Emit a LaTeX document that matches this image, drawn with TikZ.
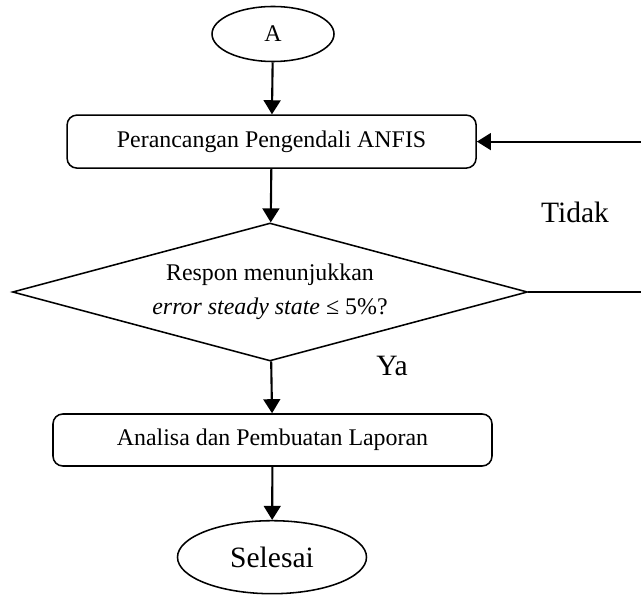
\documentclass[tikz,border=0pt]{standalone}
\usepackage{fontspec}
\setmainfont{Liberation Serif}
\usetikzlibrary{shapes.geometric,arrows.meta}

\begin{document}
\begin{tikzpicture}[
    proses/.style={shape=rectangle, rounded corners=7pt, draw=black, line width=1.1pt, font=\fontsize{17}{20}\selectfont},
    terminal/.style={shape=ellipse, draw=black, line width=1.1pt},
    panah/.style={-{Triangle[length=10pt,width=12pt]}, line width=1.5pt}
  ]
            \useasboundingbox (0, 0) rectangle (16.025, -14.875);

            \node[terminal, minimum width=3.05cm, minimum height=1.375cm, font=\fontsize{17}{20}\selectfont] (a) at (6.825, -0.85){A};
            \node[proses, minimum width=10.225cm, minimum height=1.325cm] (b) at (6.79, -3.54){Perancangan Pengendali ANFIS};
            \node[shape=diamond, shape aspect=3.73, draw=black, line width=1.1pt, inner sep=0pt, minimum width=12.875cm, minimum height=3.45cm, align=center, font=\fontsize{17}{24}\selectfont] (c) at (6.75, -7.3){Respon menunjukkan\\\textit{error steady state} ≤ 5\%?};
            \node[proses, minimum width=10.975cm, minimum height=1.3cm] (d) at (6.8125, -11.0){Analisa dan Pembuatan Laporan};
            \node[terminal, minimum width=4.725cm, minimum height=1.825cm, font=\fontsize{21}{25}\selectfont] (e) at (6.8, -13.93){Selesai};

            \coordinate (r1) at (16.025, -3.54);
            \coordinate (r2) at (16.025, -7.3);

            \node[font=\fontsize{21}{25}\selectfont] (tidak) at (14.375, -5.3){Tidak};
            \node[font=\fontsize{21}{25}\selectfont] (ya) at (9.8, -9.15){Ya};

            \path [panah] (a) edge (b);
            \path [panah] (b) edge (c);
            \path [panah] (c) edge (d);
            \path [panah] (d) edge (e);

            \path [-, line width=1.1pt] (c.east) edge (r2);
            \path [panah] (r1) edge (b.east);
\end{tikzpicture}
\end{document}
